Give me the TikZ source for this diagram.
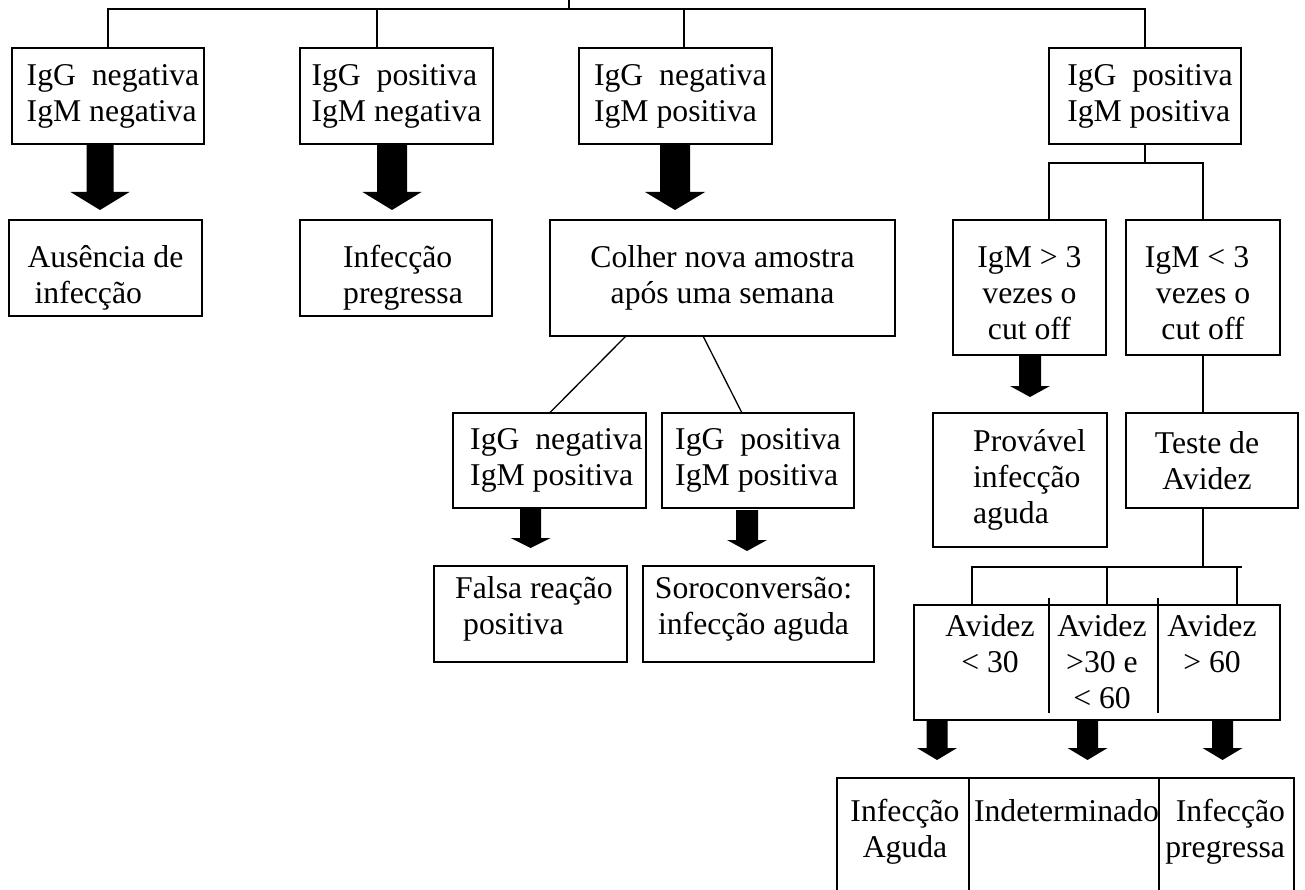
\documentclass[tikz,border=0pt]{standalone}
\usepackage{fontspec}
\setmainfont{Liberation Serif}
\usetikzlibrary{calc}
\newcommand\fs{\fontsize{31.7}{36}\selectfont}
\newcommand\pd[1]{\hspace*{#1pt}}
\newcommand\fatarrow[5]{%
  \fill ($(#1)+(-#2,0)$) -- ($(#1)+(-#2,#3)$) -- ($(#1)+(-#4,#3)$) -- ($(#1)+(0,#3+#5)$) -- ($(#1)+(#4,#3)$) -- ($(#1)+(#2,#3)$) -- ($(#1)+(#2,0)$) -- cycle;}
\tikzset{
  bx/.style={draw, line width=1.8pt, inner sep=0pt, outer sep=0pt, font=\fs, align=center},
  tx/.style={inner sep=0pt, outer sep=0pt, font=\fs, align=center},
  ln/.style={line width=1.5pt},
}
\begin{document}
\begin{tikzpicture}[x=1pt,y=-1pt]
\useasboundingbox (0,0) rectangle (1305,890);
\fill[white] (0,0) rectangle (1305,890);

% first row
\node[bx, minimum width=192, minimum height=96, align=left] (b1) at (108,96) {\pd{10}IgG\ \ negativa\\\pd{10}IgM negativa};
\node[bx, minimum width=193, minimum height=96, align=left] (b2) at (396.5,96) {IgG\ \ positiva\\IgM negativa};
\node[bx, minimum width=193, minimum height=96, align=left] (b3) at (675.5,96) {\pd{9.6}IgG\ \ negativa\\\pd{9.6}IgM positiva};
\node[bx, minimum width=192, minimum height=96, align=left] (b4) at (1145,96) {\pd{10}IgG\ \ positiva\\\pd{10}IgM positiva};

% second row
\node[bx, minimum width=193, minimum height=96, align=left] (r1) at (105.5,268) {\rule{0pt}{41.7pt}Ausência de\\\pd{7}infecção};
\node[bx, minimum width=192, minimum height=96, align=left] (r2) at (396,268) {\rule{0pt}{41.7pt}\pd{14}Infecção\\\pd{14}pregressa};
\node[bx, minimum width=345, minimum height=116] (colher) at (722.5,278) {Colher nova amostra\\após uma semana};
\node[bx, minimum width=153, minimum height=135] (m1) at (1029.5,287.5) {\rule{0pt}{31.7pt}IgM > 3\\vezes o\\cut off};
\node[bx, minimum width=154, minimum height=135] (m2) at (1203,287.5) {\rule{0pt}{31.7pt}IgM < 3\pd{12}\\vezes o\pd{12}\\cut off};

% third row
\node[bx, minimum width=193, minimum height=95, align=left] (n1) at (549.5,460.5) {\pd{14}IgG\ \ negativa\\\pd{14}IgM positiva};
\node[bx, minimum width=192, minimum height=95, align=left] (n2) at (758,460.5) {IgG\ \ positiva\\IgM positiva};
\node[bx, minimum width=174, minimum height=134, align=left] (prov) at (1020,480) {\pd{19}Provável\\\pd{19}infecção\\\pd{19}aguda};
\node[bx, minimum width=172, minimum height=95] (teste) at (1212,460.5) {Teste de\pd{10}\\Avidez\pd{10}};

% fourth row
\node[bx, minimum width=193, minimum height=96, align=left] (falsa) at (530.5,614) {\pd{7}Falsa reação\\\pd{15}positiva\rule[-16.9pt]{0pt}{0pt}};
\node[bx, minimum width=231, minimum height=96] (soro) at (758.5,614) {Soroconversão:\pd{10}\\infecção aguda\pd{10}\rule[-16.9pt]{0pt}{0pt}};
\node[bx, minimum width=366, minimum height=115] (avidez) at (1097,662.5) {};
\node[tx, anchor=north] (tav1) at (990,614) {Avidez\\< 30};
\node[tx, anchor=north] (tav2) at (1102,614) {Avidez\\>30 e\\< 60};
\node[tx, anchor=north] (tav3) at (1212,614) {Avidez\\> 60};
\coordinate (d1t) at (1049,598); \coordinate (d1b) at (1049,713);
\coordinate (d2t) at (1158,598); \coordinate (d2b) at (1158,713);
\draw[ln] (d1t) -- (d1b);
\draw[ln] (d2t) -- (d2b);

% bottom row
\node[bx, minimum width=132, minimum height=122] (c1) at (903,839) {};
\node[bx, minimum width=190, minimum height=122] (c2) at (1064,839) {};
\node[bx, minimum width=135, minimum height=122] (c3) at (1226.5,839) {};
\node[tx, anchor=north] (tc1) at (905,799) {Infecção\\Aguda};
\node[tx, anchor=north west] (tc2) at (974,799) {Indeterminado};
\node[tx, anchor=north east, align=right] (tc3) at (1285,799) {Infecção\\pregressa};

% tree connectors
\coordinate (top) at (569,0);
\coordinate (hub) at (569,9);
\draw[ln] (top) -- (hub);
\draw[ln] (b1.north) |- (b4.north |- hub) -- (b4.north);
\coordinate (j2) at (377,9);
\coordinate (j3) at (684,9);
\draw[ln] (j2) -- (b2.north -| j2);
\draw[ln] (j3) -- (b3.north -| j3);

\coordinate (j4) at (1145,163);
\coordinate (j4l) at (1049,163);
\draw[ln] (b4.south) -- (j4);
\draw[ln] (m1.north -| j4l) -- (j4l) -- (m2.north |- j4l) -- (m2.north);
\draw[ln] (m2.south) -- (teste.north -| m2.south);

\coordinate (j5) at (1203,567);
\coordinate (j5l) at (972,567);
\coordinate (j5r) at (1242,567);
\coordinate (j5m) at (1107,567);
\coordinate (j5k) at (1237,567);
\draw[ln] (teste.south -| j5) -- (j5);
\draw[ln] (avidez.north -| j5l) -- (j5l) -- (j5r);
\draw[ln] (j5m) -- (avidez.north -| j5m);
\draw[ln] (j5k) -- (avidez.north -| j5k);

\coordinate (k1) at (626,0);
\coordinate (k2) at (703,0);
\coordinate (k3) at (742,0);
\draw[line width=1.3pt] (colher.south -| k1) -- (n1.north);
\draw[line width=1.3pt] (colher.south -| k2) -- (n2.north -| k3);

% block arrows
\path (b1.south) ++(-8,0) coordinate (s1);
\path (b2.south) ++(-4.5,0) coordinate (s2);
\path (b3.south) ++(-0.5,0) coordinate (s3);
\path (n1.south) ++(-19,0) coordinate (s4);
\path (n2.south) ++(-11,2) coordinate (s5);
\path (m1.south) ++(0.5,0) coordinate (s6);
\path (avidez.south) ++(-160,0) coordinate (s7);
\path (avidez.south) ++(-9.5,0) coordinate (s8);
\path (avidez.south) ++(125.5,0) coordinate (s9);
\fatarrow{s1}{13.5}{48}{29.5}{18}
\fatarrow{s2}{15}{48}{29.5}{18}
\fatarrow{s3}{15}{48}{30}{18}
\fatarrow{s4}{10.5}{30}{20}{10}
\fatarrow{s5}{11}{30}{20}{11}
\fatarrow{s6}{11}{31}{20}{11}
\fatarrow{s7}{10.5}{28}{20}{12}
\fatarrow{s8}{10.5}{28}{20}{12}
\fatarrow{s9}{10.5}{28}{20}{12}
\end{tikzpicture}
\end{document}
